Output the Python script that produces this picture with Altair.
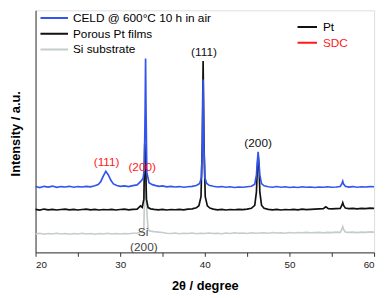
import altair as alt
import pandas as pd

# ---------------- data ----------------
blue_x = [20.0, 20.5, 21.0, 21.5, 22.0, 22.5, 23.0, 23.5, 24.0, 24.5, 25.0, 25.5, 26.0, 26.5, 27.0,
          27.4, 27.7, 28.0, 28.3, 28.6, 28.9, 29.2, 29.6, 30.0, 30.5, 31.0, 31.5, 32.0, 32.4, 32.7,
          32.85, 32.95, 33.0, 33.05, 33.15, 33.4, 33.8, 34.2, 34.6, 35.0, 35.5, 36.0, 36.5, 37.0,
          37.5, 38.0, 38.5, 39.0, 39.4, 39.6, 39.72, 39.8, 39.88, 40.0, 40.2, 40.5, 41.0, 41.5,
          42.0, 42.5, 43.0, 43.5, 44.0, 44.5, 45.0, 45.5, 45.9, 46.1, 46.22, 46.3, 46.38, 46.5,
          46.7, 47.0, 47.5, 48.0, 48.5, 49.0, 49.5, 50.0, 50.5, 51.0, 51.5, 52.0, 52.5, 53.0,
          53.5, 54.0, 54.5, 55.0, 55.5, 56.0, 56.2, 56.3, 56.4, 56.6, 57.0, 57.5, 58.0, 58.5,
          59.0, 59.5, 60.0]
blue_y = [27.2, 26.8, 27.3, 27.0, 27.4, 26.9, 27.2, 27.0, 27.3, 26.9, 27.2, 27.0, 27.3, 27.1, 27.5,
          28.0, 29.2, 31.5, 33.5, 32.0, 29.8, 28.3, 27.6, 27.3, 27.5, 27.2, 27.6, 27.9, 29.2, 30.5,
          34.0, 60.0, 80.1, 60.0, 33.0, 28.8, 28.0, 27.6, 27.3, 27.5, 27.1, 27.3, 27.0, 27.2,
          26.9, 27.1, 27.3, 27.6, 28.5, 31.0, 45.0, 71.4, 45.0, 31.0, 28.6, 27.7, 27.3, 27.0,
          27.2, 26.9, 27.1, 26.8, 27.0, 26.9, 27.1, 27.3, 28.2, 32.0, 38.0, 41.5, 38.0, 32.0,
          28.4, 27.5, 27.1, 26.9, 27.2, 26.9, 27.1, 26.8, 27.0, 26.8, 27.1, 26.9, 27.0, 26.8,
          27.0, 26.9, 27.1, 26.9, 27.0, 27.2, 28.4, 29.4, 28.2, 27.3, 27.0, 27.2, 26.9, 27.1,
          27.0, 27.2, 27.1]

black_x = [20.0, 20.5, 21.0, 21.5, 22.0, 22.5, 23.0, 23.5, 24.0, 24.5, 25.0, 25.5, 26.0, 26.5, 27.0,
           27.5, 28.0, 28.5, 29.0, 29.5, 30.0, 30.5, 31.0, 31.5, 32.0, 32.4, 32.6, 32.8, 32.9, 33.0,
           33.1, 33.3, 33.6, 34.0, 34.5, 35.0, 35.5, 36.0, 36.5, 37.0, 37.5, 38.0, 38.5, 39.0,
           39.3, 39.55, 39.7, 39.8, 39.9, 40.05, 40.3, 40.6, 41.0, 41.5, 42.0, 42.5, 43.0, 43.5,
           44.0, 44.5, 45.0, 45.5, 45.9, 46.1, 46.22, 46.3, 46.4, 46.5, 46.7, 47.0, 47.5, 48.0,
           48.5, 49.0, 49.5, 50.0, 50.5, 51.0, 51.5, 52.0, 52.5, 53.0, 53.5, 54.0, 54.3, 54.6,
           55.0, 55.5, 56.0, 56.2, 56.3, 56.4, 56.6, 57.0, 57.5, 58.0, 58.5, 59.0, 59.5, 60.0]
black_y = [17.8, 17.5, 17.9, 17.6, 17.8, 17.5, 17.7, 17.9, 17.6, 17.8, 17.5, 17.7, 17.9, 17.6, 17.8,
           17.5, 17.7, 17.6, 17.8, 17.5, 17.7, 17.9, 17.6, 17.8, 17.9, 19.2, 18.6, 22.0, 45.0, 38.0,
           22.0, 18.5, 18.0, 17.8, 17.6, 17.8, 17.5, 17.7, 17.6, 17.8, 17.6, 17.9, 18.0, 18.4,
           19.3, 23.0, 45.0, 79.1, 45.0, 23.0, 19.2, 18.3, 17.9, 17.6, 17.8, 17.5, 17.7, 17.6,
           17.8, 17.7, 17.9, 18.2, 19.4, 25.0, 36.0, 40.0, 36.0, 25.0, 19.5, 18.2, 17.8, 17.6,
           17.8, 17.5, 17.7, 17.6, 17.8, 17.6, 17.9, 17.7, 17.8, 17.9, 18.0, 18.1, 18.8, 18.1,
           18.0, 18.1, 18.2, 19.5, 20.5, 19.4, 18.3, 18.1, 18.2, 18.0, 18.2, 18.1, 18.3, 18.2]

gray_x = [20.0, 20.5, 21.0, 21.5, 22.0, 22.5, 23.0, 23.5, 24.0, 24.5, 25.0, 25.5, 26.0, 26.5, 27.0,
          27.5, 28.0, 28.5, 29.0, 29.5, 30.0, 30.5, 31.0, 31.5, 32.0, 32.5, 32.8, 32.9, 33.0, 33.1,
          33.3, 33.6, 34.0, 34.5, 35.0, 35.5, 36.0, 36.5, 37.0, 37.5, 38.0, 38.5, 39.0, 39.5,
          40.0, 40.5, 41.0, 41.5, 42.0, 42.5, 43.0, 43.5, 44.0, 44.5, 45.0, 45.5, 46.0, 46.5,
          47.0, 47.5, 48.0, 48.5, 49.0, 49.5, 50.0, 50.5, 51.0, 51.5, 52.0, 52.5, 53.0, 53.5,
          54.0, 54.5, 55.0, 55.5, 56.0, 56.2, 56.3, 56.4, 56.6, 57.0, 57.5, 58.0, 58.5, 59.0,
          59.5, 60.0]
gray_y = [7.6, 7.9, 7.5, 7.8, 7.6, 7.9, 7.6, 7.8, 7.5, 7.8, 7.6, 7.9, 7.6, 7.8, 7.5,
          7.8, 7.6, 7.9, 7.6, 7.8, 7.6, 7.8, 7.7, 7.9, 8.0, 8.3, 9.5, 30.0, 40.0, 20.0,
          9.2, 8.8, 8.6, 8.4, 8.2, 7.9, 7.8, 8.0, 7.7, 7.9, 7.8, 8.0, 7.7, 7.9,
          7.8, 8.0, 7.8, 7.9, 7.7, 8.0, 7.8, 8.1, 7.9, 8.0, 7.8, 8.1, 7.9, 8.0,
          8.1, 7.9, 8.2, 8.0, 8.1, 7.9, 8.2, 8.0, 8.2, 8.1, 8.3, 8.1, 8.2, 8.3,
          8.1, 8.3, 8.2, 8.4, 8.3, 9.6, 10.6, 9.5, 8.4, 8.3, 8.4, 8.2, 8.4, 8.3,
          8.5, 8.4]

series_names = ["CELD @ 600°C 10 h in air", "Porous Pt films", "Si substrate"]
series_colors = ["#3355ee", "#111111", "#c5cccc"]

ann_x = [39.9, 46.3, 28.4, 32.6, 32.7, 32.8]
ann_y = [82.6, 45.3, 37.4, 35.4, 8.3, 2.0]
ann_text = ["(111)", "(200)", "(111)", "(200)", "Si", "(200)"]
ann_cat = ["Pt", "Pt", "SDC", "SDC", "Si", "Si"]
ann_names = ["Pt", "SDC", "Si"]
ann_colors = ["#111111", "#ff1a1a", "#444444"]

x_ticks = [20, 25, 30, 35, 40, 45, 50, 55, 60]

FONT = "Liberation Sans"

rows = []
for name, xs, ys in [(series_names[2], gray_x, gray_y),
                     (series_names[1], black_x, black_y),
                     (series_names[0], blue_x, blue_y)]:
    for i, (a, b) in enumerate(zip(xs, ys)):
        rows.append({"series": name, "x": a, "y": b, "i": i})
df = pd.DataFrame(rows)
ann = pd.DataFrame({"x": ann_x, "y": ann_y, "text": ann_text, "cat": ann_cat})

xscale = alt.Scale(domain=[20, 60], nice=False)
yscale = alt.Scale(domain=[0, 100], nice=False)

color_enc = alt.Color(
    "series:N",
    scale=alt.Scale(domain=series_names, range=series_colors),
    legend=alt.Legend(
        title=None, orient="none", legendX=4, legendY=0,
        symbolType="stroke", symbolSize=784, symbolStrokeWidth=2,
        clipHeight=15.5, labelOffset=4, padding=0,
        labelFont=FONT, labelFontSize=12, labelFontWeight="normal", labelColor="#000000",
        rowPadding=0,
    ),
)

x_enc = alt.X("x:Q", scale=xscale, axis=alt.Axis(
    values=x_ticks, labelExpr="datum.value % 10 == 0 ? datum.label : ''",
    grid=False, tickSize=4, tickColor="#333333", domainColor="#333333",
    labelFont=FONT, labelFontSize=10, labelColor="#222222", labelPadding=3,
    title="2θ / degree", titleFont=FONT, titleFontSize=13, titleFontWeight="bold",
    titleColor="#000000", titleY=38, titleBaseline="alphabetic",
))
y_enc = alt.Y("y:Q", scale=yscale, axis=alt.Axis(
    labels=False, ticks=False, grid=False, domainColor="#333333",
    title="Intensity / a.u.", titleFont=FONT, titleFontSize=13, titleFontWeight="bold",
    titleColor="#000000", titleX=-20, titleY=125, titleAngle=270,
    titleAlign="center", titleBaseline="middle",
))

layers = []
for name in [series_names[2], series_names[1], series_names[0]]:
    layers.append(
        alt.Chart(df).transform_filter(alt.datum.series == name)
        .mark_line(strokeWidth=1.7, interpolate="linear")
        .encode(x=x_enc, y=y_enc, color=color_enc, order="i:Q")
    )

text_layer = alt.Chart(ann).mark_text(font=FONT, fontSize=12, baseline="middle", align="center").encode(
    x=alt.X("x:Q", scale=xscale),
    y=alt.Y("y:Q", scale=yscale),
    text="text:N",
    fill=alt.Fill("cat:N", scale=alt.Scale(domain=ann_names, range=ann_colors),
                  legend=alt.Legend(
                      title=None, orient="none", legendX=266, legendY=9.25,
                      values=["Pt", "SDC"],
                      symbolType="M-1,-0.1H1V0.1H-1Z", symbolSize=400, symbolStrokeWidth=0,
                      clipHeight=15.5, labelOffset=6, padding=0, rowPadding=0,
                      labelFont=FONT, labelFontSize=12, labelFontWeight="normal",
                      labelColor={"expr": "datum.label == 'SDC' ? '#ff1a1a' : '#000000'"},
                  )),
)

chart = alt.layer(*layers, text_layer).properties(
    width=344, height=246,
    autosize=alt.AutoSizeParams(type="none"),
    padding={"left": 28, "top": 0, "right": 5, "bottom": 44},
).configure_view(stroke="#333333", strokeWidth=1).configure(background="white")

chart.save("out.html", embed_options={"renderer": "svg", "actions": False})
